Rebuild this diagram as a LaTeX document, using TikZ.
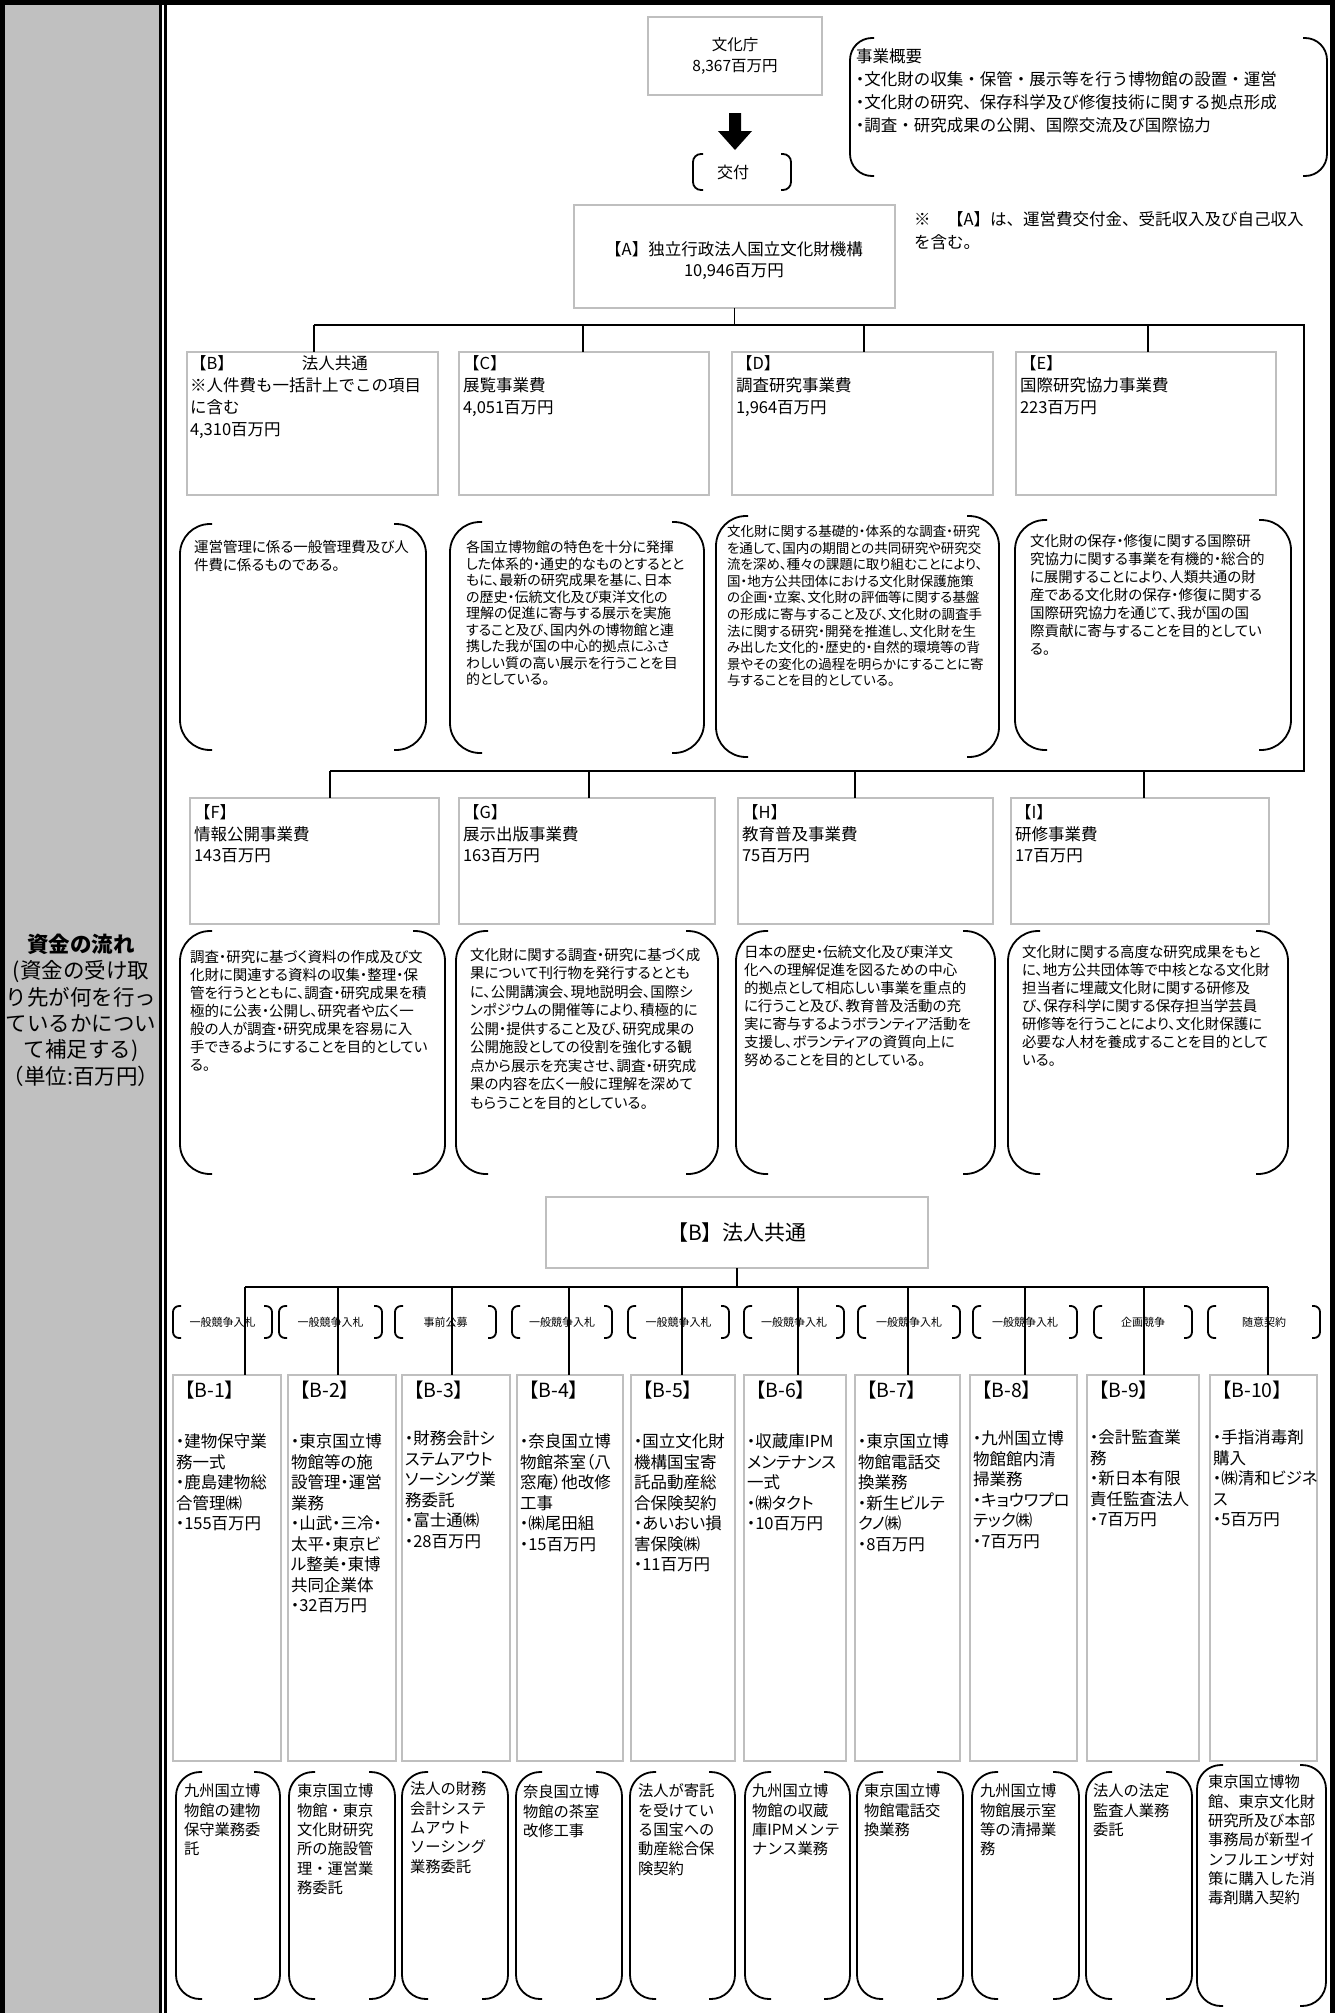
\documentclass[tikz,border=0pt]{standalone}
\usepackage{fontspec}
\setmainfont{Noto Sans CJK JP}
\newfontfamily\pf{Noto Sans CJK JP}[RawFeature=+palt]
\definecolor{boxgray}{RGB}{191,191,191}
\definecolor{colgray}{RGB}{192,192,192}
\newcommand\setfs[2]{\fontsize{#1}{#2}\selectfont}
\tikzset{
  bx/.style={draw=boxgray, line width=2, fill=white, inner sep=0, outer sep=0},
  conn/.style={draw=black, line width=1.8},
  brk/.style={draw=black, line width=1.8},
  txt/.style={anchor=north west, inner sep=0, outer sep=0, align=left},
}
\newcommand\rbox[5]{\node[bx, anchor=north west, minimum width={#4-#2}, minimum height={#5-#3}] (#1) at (#2,#3) {};}
\newcommand\brpair[5]{%
  \draw[brk, rounded corners=#5] ({#1+#5+2},#2) -- (#1,#2) -- (#1,#4) -- ({#1+#5+2},#4);
  \draw[brk, rounded corners=#5] ({#3-#5-2},#2) -- (#3,#2) -- (#3,#4) -- ({#3-#5-2},#4);}
\begin{document}
\begin{tikzpicture}[x=1pt,y=-1pt]
\useasboundingbox (0,0) rectangle (1335,2013);
% frame
\fill[colgray] (3,3) rectangle (159,2013);
\draw[line width=3] (160.8,0) -- (160.8,2013);
\draw[line width=3] (165.4,0) -- (165.4,2013);
\draw[line width=5] (2.5,2013) -- (2.5,2.5) -- (1332.5,2.5) -- (1332.5,2013);
\node[align=center, font=\setfs{21.5}{26.4}] (lbl) at (81,1010) {\textbf{資金の流れ}\\(資金の受け取\\り先が何を行っ\\ているかについ\\て補足する)\\（単位:百万円）};

% top
\node[bx, minimum width=174, minimum height=78, align=center, font=\setfs{15.5}{21}] (bunka) at (735,56) {文化庁\\8,367百万円};
\fill (729,113) -- (741,113) -- (741,131) -- (752,131) -- (735,150) -- (718,131) -- (729,131) -- cycle;
\brpair{693}{154}{791}{190}{8}
\node[font=\setfs{16}{20}] (kofu) at (733,172) {交付};
\brpair{850}{38}{1327}{176}{22}
\node[txt, font=\setfs{16.5}{23}] (gaiyo) at (856,49) {事業概要\\{\pf ・}文化財の収集・保管・展示等を行う博物館の設置・運営\\{\pf ・}文化財の研究、保存科学及び修復技術に関する拠点形成\\{\pf ・}調査・研究成果の公開、国際交流及び国際協力};
\node[txt, font=\setfs{16.5}{23}] (note) at (914,212) {※　【A】は、運営費交付金、受託収入及び自己収入\\を含む。};
\rbox{A}{574}{205}{895}{308}
\node[align=center, font=\setfs{16.5}{21}] (At) at (734,261) {【A】独立行政法人国立文化財機構\\10,946百万円};

% bus 1 and 2
\coordinate (b1B) at (314,325);
\coordinate (b1C) at (583,325);
\coordinate (b1D) at (864,325);
\coordinate (b1E) at (1148,325);
\coordinate (b1R) at (1304,325);
\coordinate (b2R) at (1304,771);
\coordinate (b2F) at (330,771);
\coordinate (b2G) at (589,771);
\coordinate (b2H) at (855,771);
\coordinate (b2I) at (1144,771);

\rbox{B}{187}{352}{438}{495}
\rbox{C}{459}{352}{709}{495}
\rbox{D}{732}{352}{993}{495}
\rbox{E}{1016}{352}{1276}{495}
\rbox{F}{190}{798}{439}{924}
\rbox{G}{459}{798}{715}{924}
\rbox{H}{738}{798}{993}{924}
\rbox{I}{1011}{798}{1269}{924}

\draw[conn] (A.south) -- (A.south |- b1B);
\draw[conn] (b1B) -- (b1R) -- (b2R) -- (b2F);
\draw[conn] (b1B) -- (b1B |- B.north);
\draw[conn] (b1C) -- (b1C |- C.north);
\draw[conn] (b1D) -- (b1D |- D.north);
\draw[conn] (b1E) -- (b1E |- E.north);
\draw[conn] (b2F) -- (b2F |- F.north);
\draw[conn] (b2G) -- (b2G |- G.north);
\draw[conn] (b2H) -- (b2H |- H.north);
\draw[conn] (b2I) -- (b2I |- I.north);

\node[txt, font=\setfs{16.5}{22}] (tB) at (190,356) {【B】\hspace{68pt}法人共通\\※人件費も一括計上でこの項目\\に含む\\4,310百万円};
\node[txt, font=\setfs{16.5}{22}] (tC) at (463,356) {【C】\\展覧事業費\\4,051百万円};
\node[txt, font=\setfs{16.5}{22}] (tD) at (736,356) {【D】\\調査研究事業費\\1,964百万円};
\node[txt, font=\setfs{16.5}{22}] (tE) at (1020,356) {【E】\\国際研究協力事業費\\223百万円};
\node[txt, font=\setfs{16.5}{21.5}] (tF) at (194,805) {【F】\\情報公開事業費\\143百万円};
\node[txt, font=\setfs{16.5}{21.5}] (tG) at (463,805) {【G】\\展示出版事業費\\163百万円};
\node[txt, font=\setfs{16.5}{21.5}] (tH) at (742,805) {【H】\\教育普及事業費\\75百万円};
\node[txt, font=\setfs{16.5}{21.5}] (tI) at (1015,805) {【I】\\研修事業費\\17百万円};

% row 1 descriptions
\brpair{180}{524}{426}{750}{30}
\brpair{450}{522}{704}{753}{30}
\brpair{716}{516}{999}{757}{30}
\brpair{1015}{520}{1291}{750}{30}
\node[txt, font=\pf\setfs{14.5}{18}] (dscB) at (194,540) {運営管理に係る一般管理費及び人\\件費に係るものである。};
\node[txt, font=\pf\setfs{14}{16.5}] (dscC) at (466,541) {各国立博物館の特色を十分に発揮\\した体系的・通史的なものとするとと\\もに、最新の研究成果を基に、日本\\の歴史・伝統文化及び東洋文化の\\理解の促進に寄与する展示を実施\\すること及び、国内外の博物館と連\\携した我が国の中心的拠点にふさ\\わしい質の高い展示を行うことを目\\的としている。};
\node[txt, font=\pf\setfs{13.5}{16.6}] (dscD) at (727,525) {文化財に関する基礎的・体系的な調査・研究\\を通して、国内の期間との共同研究や研究交\\流を深め、種々の課題に取り組むことにより、\\国・地方公共団体における文化財保護施策\\の企画・立案、文化財の評価等に関する基盤\\の形成に寄与すること及び、文化財の調査手\\法に関する研究・開発を推進し、文化財を生\\み出した文化的・歴史的・自然的環境等の背\\景やその変化の過程を明らかにすることに寄\\与することを目的としている。};
\node[txt, font=\pf\setfs{14.5}{18}] (dscE) at (1030,534) {文化財の保存・修復に関する国際研\\究協力に関する事業を有機的・総合的\\に展開することにより、人類共通の財\\産である文化財の保存・修復に関する\\国際研究協力を通じて、我が国の国\\際貢献に寄与することを目的としてい\\る。};

% row 2 descriptions
\brpair{180}{931}{445}{1174}{30}
\brpair{456}{931}{718}{1174}{30}
\brpair{736}{931}{995}{1174}{30}
\brpair{1008}{931}{1288}{1174}{30}
\node[txt, font=\pf\setfs{14.5}{18}] (dscF) at (190,950) {調査・研究に基づく資料の作成及び文\\化財に関連する資料の収集・整理・保\\管を行うとともに、調査・研究成果を積\\極的に公表・公開し、研究者や広く一\\般の人が調査・研究成果を容易に入\\手できるようにすることを目的としてい\\る。};
\node[txt, font=\pf\setfs{14.5}{18.5}] (dscG) at (470,948) {文化財に関する調査・研究に基づく成\\果について刊行物を発行するととも\\に、公開講演会、現地説明会、国際シ\\ンポジウムの開催等により、積極的に\\公開・提供すること及び、研究成果の\\公開施設としての役割を強化する観\\点から展示を充実させ、調査・研究成\\果の内容を広く一般に理解を深めて\\もらうことを目的としている。};
\node[txt, font=\pf\setfs{14.5}{18}] (dscH) at (744,945) {日本の歴史・伝統文化及び東洋文\\化への理解促進を図るための中心\\的拠点として相応しい事業を重点的\\に行うこと及び、教育普及活動の充\\実に寄与するようボランティア活動を\\支援し、ボランティアの資質向上に\\努めることを目的としている。};
\node[txt, font=\pf\setfs{14.5}{18}] (dscI) at (1022,945) {文化財に関する高度な研究成果をもと\\に、地方公共団体等で中核となる文化財\\担当者に埋蔵文化財に関する研修及\\び、保存科学に関する保存担当学芸員\\研修等を行うことにより、文化財保護に\\必要な人材を養成することを目的として\\いる。};

% bottom section
\node[bx, minimum width=382, minimum height=71, font=\setfs{21}{24}] (BB) at (737,1232.5) {【B】法人共通};
\coordinate (c0) at (245,1287);
\coordinate (c9) at (1268,1287);
\draw[conn] (BB.south) -- (BB.south |- c0);
\draw[conn] (c0) -- (c9);
\foreach \n/\xa/\xb in {1/173/281, 2/288/396, 3/402/510, 4/517/623, 5/631/735, 6/744/846, 7/855/960, 8/970/1077, 9/1087/1199, 10/1210/1317} {
  \rbox{b\n}{\xa}{1375}{\xb}{1761}
  \node[txt, font=\setfs{19.5}{22}] (t\n) at ({\xa+2},1381) {【B-\n】};
}
\foreach \n/\x in {1/245,2/338,3/452,4/569,5/682,6/798,7/908,8/1025,9/1144,10/1268} {
  \coordinate (d\n) at (\x,1287);
  \draw[conn] (d\n) -- (d\n |- b\n.north);
}
\foreach \n/\xa/\xb/\t in {1/173/272/一般競争入札, 2/279/382/一般競争入札, 3/395/496/事前公募, 4/512/612/一般競争入札, 5/628/729/一般競争入札, 6/744/844/一般競争入札, 7/858/960/一般競争入札, 8/973/1077/一般競争入札, 9/1094/1192/企画競争, 10/1208/1320/随意契約} {
  \brpair{\xa}{1306}{\xb}{1338}{6}
  \node[font=\setfs{11}{12}] (l\n) at ({(\xa+\xb)/2},1322) {\t};
}
\node[txt, font=\pf\setfs{16.5}{20.5}] (i1) at (176,1434) {・建物保守業\\務一式\\・鹿島建物総\\合管理㈱\\・155百万円};
\node[txt, font=\pf\setfs{16.5}{20.5}] (i2) at (291,1434) {・東京国立博\\物館等の施\\設管理・運営\\業務\\・山武・三冷・\\太平・東京ビ\\ル整美・東博\\共同企業体\\・32百万円};
\node[txt, font=\pf\setfs{16.5}{20.5}] (i3) at (405,1431) {・財務会計シ\\ステムアウト\\ソーシング業\\務委託\\・富士通㈱\\・28百万円};
\node[txt, font=\pf\setfs{16.5}{20.5}] (i4) at (520,1434) {・奈良国立博\\物館茶室（八\\窓庵）他改修\\工事\\・㈱尾田組\\・15百万円};
\node[txt, font=\pf\setfs{16.5}{20.5}] (i5) at (634,1434) {・国立文化財\\機構国宝寄\\託品動産総\\合保険契約\\・あいおい損\\害保険㈱\\・11百万円};
\node[txt, font=\pf\setfs{16.5}{20.5}] (i6) at (747,1434) {・収蔵庫IPM\\メンテナンス\\一式\\・㈱タクト\\・10百万円};
\node[txt, font=\pf\setfs{16.5}{20.5}] (i7) at (858,1434) {・東京国立博\\物館電話交\\換業務\\・新生ビルテ\\クノ㈱\\・8百万円};
\node[txt, font=\pf\setfs{16.5}{20.5}] (i8) at (973,1431) {・九州国立博\\物館館内清\\掃業務\\・キョウワプロ\\テック㈱\\・7百万円};
\node[txt, font=\pf\setfs{16.5}{20.5}] (i9) at (1090,1430) {・会計監査業\\務\\・新日本有限\\責任監査法人\\・7百万円};
\node[txt, font=\pf\setfs{16.5}{20.5}] (i10) at (1213,1430) {・手指消毒剤\\購入\\・㈱清和ビジネ\\ス\\・5百万円};

\foreach \xa/\xb in {176/280, 289/395, 402/508, 516/622, 630/735, 745/850, 857/963, 972/1079, 1086/1192} {
  \brpair{\xa}{1772}{\xb}{1999}{24}
}
\brpair{1197}{1765}{1326}{2006}{24}
\node[txt, font=\setfs{15.3}{19.3}] (e1) at (184,1784) {九州国立博\\物館の建物\\保守業務委\\託};
\node[txt, font=\setfs{15.3}{19.3}] (e2) at (297,1784) {東京国立博\\物館・東京\\文化財研究\\所の施設管\\理・運営業\\務委託};
\node[txt, font=\setfs{15.3}{19.3}] (e3) at (410,1782) {法人の財務\\会計システ\\ムアウト\\ソーシング\\業務委託};
\node[txt, font=\setfs{15.3}{19.3}] (e4) at (523,1785) {奈良国立博\\物館の茶室\\改修工事};
\node[txt, font=\setfs{15.3}{19.3}] (e5) at (638,1784) {法人が寄託\\を受けてい\\る国宝への\\動産総合保\\険契約};
\node[txt, font=\setfs{15.3}{19.3}] (e6) at (752,1784) {九州国立博\\物館の収蔵\\庫IPMメンテ\\ナンス業務};
\node[txt, font=\setfs{15.3}{19.3}] (e7) at (864,1784) {東京国立博\\物館電話交\\換業務};
\node[txt, font=\setfs{15.3}{19.3}] (e8) at (980,1784) {九州国立博\\物館展示室\\等の清掃業\\務};
\node[txt, font=\setfs{15.3}{19.3}] (e9) at (1093,1784) {法人の法定\\監査人業務\\委託};
\node[txt, font=\setfs{15.3}{19.3}] (e10) at (1208,1775) {東京国立博物\\館、東京文化財\\研究所及び本部\\事務局が新型イ\\ンフルエンザ対\\策に購入した消\\毒剤購入契約};
\end{tikzpicture}
\end{document}
